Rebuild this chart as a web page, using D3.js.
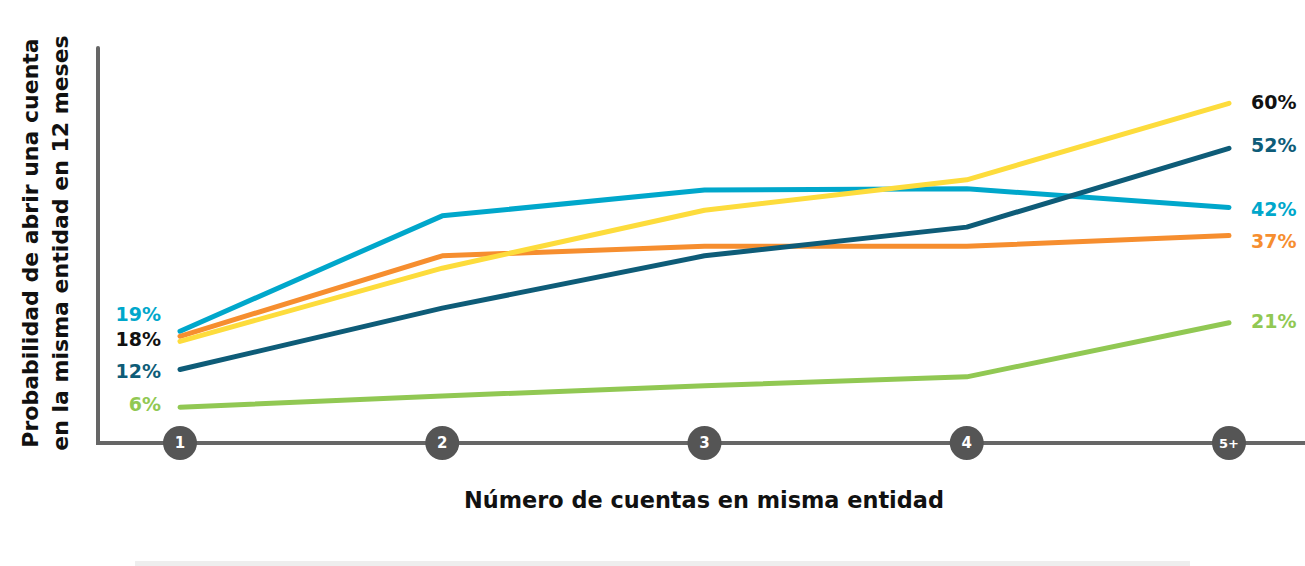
<!DOCTYPE html>
<html><head><meta charset="utf-8">
<script src="https://cdn.jsdelivr.net/npm/d3@7"></script>
<style>body{margin:0;background:#fff;}svg{display:block;font-family:"DejaVu Sans",sans-serif;}</style>
</head><body>
<svg id="c" width="1305" height="566"></svg>
<script>
const categories = ["1","2","3","4","5+"];
const yellowVals = [17.7, 30.7, 41, 46.4, 60];
const lightblueVals = [19.5, 40, 44.6, 44.8, 41.5];
const orangeVals = [18.6, 32.9, 34.6, 34.6, 36.5];
const tealVals = [12.7, 23.6, 32.9, 38, 52];
const greenVals = [6, 8, 9.8, 11.4, 21];
const colors = {yellow:"#FDDC3C", lightblue:"#00A7CB", orange:"#F68E2F", teal:"#0E5C78", green:"#91C853"};
const leftLabels = [{t:"19%",v:22.5,c:"#00A7CB"},{t:"18%",v:18.1,c:"#111"},{t:"12%",v:12.4,c:"#0E5C78"},{t:"6%",v:6.6,c:"#91C853"}];
const rightLabels = [{t:"60%",v:60.2,c:"#111"},{t:"52%",v:52.5,c:"#0E5C78"},{t:"42%",v:41.2,c:"#00A7CB"},{t:"37%",v:35.5,c:"#F68E2F"},{t:"21%",v:21.3,c:"#91C853"}];
const xTitle = "Número de cuentas en misma entidad";
const yTitle = ["Probabilidad de abrir una cuenta","en la misma entidad en 12 meses"];

const data = {yellow:yellowVals, lightblue:lightblueVals, orange:orangeVals, teal:tealVals, green:greenVals};
const svg = d3.select("#c");
const x = d3.scalePoint().domain(categories).range([180,1229]);
const y = d3.scaleLinear().domain([0,70]).range([441,47]);

svg.append("rect").attr("x",135).attr("y",561).attr("width",1055).attr("height",5).attr("fill","#eeeeee");

svg.append("line").attr("x1",98).attr("x2",98).attr("y1",48).attr("y2",443).attr("stroke","#666").attr("stroke-width",4).attr("stroke-linecap","round");
svg.append("line").attr("x1",96).attr("x2",1305).attr("y1",443).attr("y2",443).attr("stroke","#666").attr("stroke-width",4);

const line = d3.line().x((d,i)=>x(categories[i])).y(d=>y(d));
["lightblue","orange","teal","yellow","green"].forEach(k=>{
  svg.append("path").attr("d",line(data[k])).attr("fill","none").attr("stroke",colors[k]).attr("stroke-width",5).attr("stroke-linecap","round").attr("stroke-linejoin","round");
});

const g = svg.append("g");
categories.forEach(c=>{
  g.append("circle").attr("cx",x(c)).attr("cy",443).attr("r",17).attr("fill","#555");
  g.append("text").attr("x",x(c)).attr("y",443).attr("dy","0.36em").attr("text-anchor","middle").attr("fill","#fff").attr("font-size",c.length>1?13:15).attr("font-weight",700).text(c);
});

leftLabels.forEach(l=>{
  svg.append("text").attr("x",161).attr("y",y(l.v)).attr("dy","0.36em").attr("text-anchor","end").attr("fill",l.c).attr("font-size",19).attr("font-weight",700).text(l.t);
});
rightLabels.forEach(l=>{
  svg.append("text").attr("x",1251).attr("y",y(l.v)).attr("dy","0.36em").attr("text-anchor","start").attr("fill",l.c).attr("font-size",19).attr("font-weight",700).text(l.t);
});

svg.append("text").attr("x",704).attr("y",508).attr("text-anchor","middle").attr("font-size",22.4).attr("font-weight",700).attr("fill","#111").text(xTitle);
yTitle.forEach((t,i)=>{
  svg.append("text").attr("transform",`translate(${30+i*30},243) rotate(-90)`).attr("text-anchor","middle").attr("dy","0.36em").attr("font-size",22).attr("font-weight",700).attr("fill","#111").text(t);
});
</script>
</body></html>
